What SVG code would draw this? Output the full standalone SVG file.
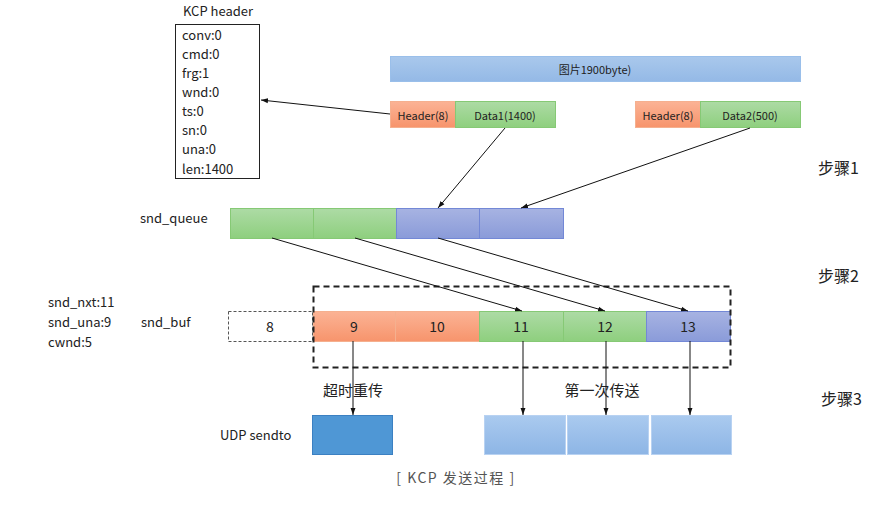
<svg xmlns="http://www.w3.org/2000/svg" width="895" height="509" viewBox="0 0 895 509">
<defs>
<linearGradient id="gOr" x1="0" y1="0" x2="0" y2="1"><stop offset="0" stop-color="#FBB395"/><stop offset="1" stop-color="#F7946C"/></linearGradient>
<linearGradient id="gGr" x1="0" y1="0" x2="0" y2="1"><stop offset="0" stop-color="#ADDBA5"/><stop offset="1" stop-color="#8ECF7E"/></linearGradient>
<linearGradient id="gBl" x1="0" y1="0" x2="0" y2="1"><stop offset="0" stop-color="#A7B3E2"/><stop offset="1" stop-color="#8A9BD9"/></linearGradient>
<linearGradient id="gTop" x1="0" y1="0" x2="0" y2="1"><stop offset="0" stop-color="#A9C8EC"/><stop offset="1" stop-color="#94B9E6"/></linearGradient>
<linearGradient id="gLb" x1="0" y1="0" x2="0" y2="1"><stop offset="0" stop-color="#AACAEF"/><stop offset="1" stop-color="#8DB5E5"/></linearGradient>
<marker id="ah" viewBox="0 0 10 10" refX="10" refY="5" markerWidth="7" markerHeight="7" orient="auto-start-reverse"><path d="M0,1.5 L10,5 L0,8.5 z" fill="#111"/></marker>
</defs>
<style>
text{font-family:"Noto Sans CJK SC","Noto Sans",sans-serif;fill:#222;}
.s{font-size:12px;}
.m{font-size:13px;}
.n{font-size:14px;}
.c{text-anchor:middle;dominant-baseline:central;}
.or{fill:url(#gOr);stroke:#F5B08F;stroke-width:1;}
.gr{fill:url(#gGr);stroke:#86C975;stroke-width:1;}
.bl{fill:url(#gBl);stroke:#7388D6;stroke-width:1;}
.lb{fill:url(#gLb);stroke:#B8D2F2;stroke-width:1;}
.cn line{stroke:#111;stroke-width:1;marker-end:url(#ah);}
</style>
<rect width="895" height="509" fill="#fff"/>

<g id="kcp-header">
<text x="183" y="16" class="m">KCP header</text>
<rect x="175.5" y="24.5" width="84" height="154" fill="#fff" stroke="#222"/>
<text x="182" y="40" class="m">conv:0</text>
<text x="182" y="59" class="m">cmd:0</text>
<text x="182" y="78" class="m">frg:1</text>
<text x="182" y="97" class="m">wnd:0</text>
<text x="182" y="116" class="m">ts:0</text>
<text x="182" y="135" class="m">sn:0</text>
<text x="182" y="154" class="m">una:0</text>
<text x="182" y="174" class="m">len:1400</text>
</g>

<g id="picture">
<rect x="390.5" y="56.5" width="410" height="25" fill="url(#gTop)" stroke="#9ABFEA"/>
<text x="595" y="69" class="s c" style="font-size:11px">图片1900byte)</text>
</g>

<g id="seg1">
<rect x="390.5" y="101.5" width="65" height="26" class="or"/>
<text x="423" y="114.5" class="s c" style="font-size:11px">Header(8)</text>
<rect x="455.5" y="101.5" width="100" height="26" class="gr"/>
<text x="505" y="114.5" class="s c" style="font-size:11px">Data1(1400)</text>
</g>
<g id="seg2">
<rect x="635.5" y="101.5" width="65" height="26" class="or"/>
<text x="668" y="114.5" class="s c" style="font-size:11px">Header(8)</text>
<rect x="700.5" y="101.5" width="100" height="26" class="gr"/>
<text x="750" y="114.5" class="s c" style="font-size:11px">Data2(500)</text>
</g>

<g id="steps">
<text x="818" y="174" style="font-size:16px">步骤1</text>
<text x="818" y="282" style="font-size:16px">步骤2</text>
<text x="821" y="405" style="font-size:16px">步骤3</text>
</g>

<g id="snd_queue">
<text x="140" y="223" class="m">snd_queue</text>
<rect x="230.5" y="208.5" width="83" height="30" class="gr"/>
<rect x="313.5" y="208.5" width="83" height="30" class="gr"/>
<rect x="396.5" y="208.5" width="83" height="30" class="bl"/>
<rect x="479.5" y="208.5" width="84" height="30" class="bl"/>
</g>

<g id="state">
<text x="48" y="307" class="m">snd_nxt:11</text>
<text x="48" y="327" class="m">snd_una:9</text>
<text x="48" y="347" class="m">cwnd:5</text>
<text x="141" y="327" class="m">snd_buf</text>
</g>

<g id="snd_buf">
<rect x="228.5" y="311.5" width="84" height="30" fill="#fff" stroke="#555" stroke-dasharray="3,2"/>
<text x="270" y="326" class="n c">8</text>
<rect x="313.5" y="311.5" width="82" height="30" class="or"/>
<text x="354" y="326" class="n c">9</text>
<rect x="395.5" y="311.5" width="84" height="30" class="or"/>
<text x="437" y="326" class="n c">10</text>
<rect x="479.5" y="311.5" width="84" height="30" class="gr"/>
<text x="521" y="326" class="n c">11</text>
<rect x="563.5" y="311.5" width="83" height="30" class="gr"/>
<text x="605" y="326" class="n c">12</text>
<rect x="646.5" y="311.5" width="84" height="30" class="bl"/>
<text x="688" y="326" class="n c">13</text>
<rect x="313.5" y="286.5" width="417" height="81" fill="none" stroke="#222" stroke-width="2" stroke-dasharray="6,4"/>
</g>

<g id="udp">
<text x="220" y="440" class="m">UDP sendto</text>
<rect x="312.5" y="415.5" width="80" height="39" fill="#4F97D5" stroke="#3B80C2"/>
<rect x="484.5" y="415.5" width="81" height="39" class="lb"/>
<rect x="567.5" y="415.5" width="81" height="39" class="lb"/>
<rect x="651.5" y="415.5" width="80" height="39" class="lb"/>
</g>

<g id="labels">
<text x="353" y="396" style="font-size:15px;text-anchor:middle">超时重传</text>
<text x="602" y="396" style="font-size:15px;text-anchor:middle">第一次传送</text>
<text x="456" y="483" style="font-size:14px;letter-spacing:1.5px;text-anchor:middle;fill:#555">[ KCP 发送过程 ]</text>
</g>

<g id="connectors" class="cn">
<line x1="390" y1="114" x2="261" y2="100"/>
<line x1="505" y1="128" x2="438" y2="208"/>
<line x1="750" y1="128" x2="521" y2="208"/>
<line x1="272" y1="238" x2="522" y2="311"/>
<line x1="355" y1="238" x2="605" y2="311"/>
<line x1="438" y1="238" x2="688" y2="311"/>
<line x1="353" y1="341" x2="353" y2="415"/>
<line x1="523" y1="341" x2="523" y2="415"/>
<line x1="606" y1="341" x2="606" y2="415"/>
<line x1="690" y1="341" x2="690" y2="415"/>
</g>
</svg>
